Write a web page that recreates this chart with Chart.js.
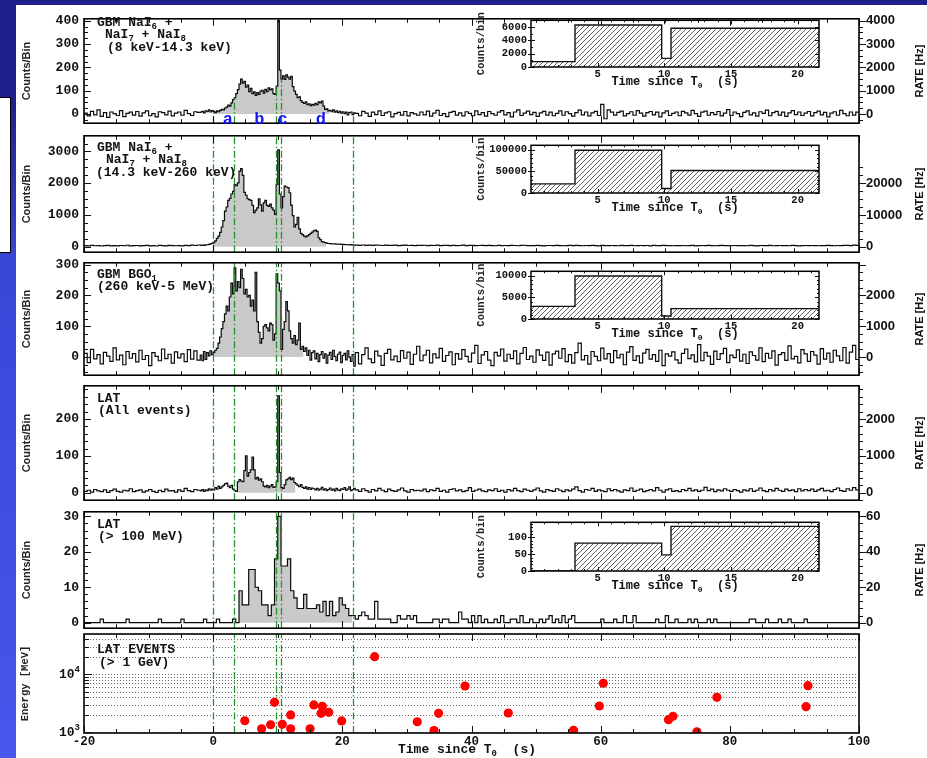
<!DOCTYPE html>
<html>
<head>
<meta charset="utf-8">
<title>GRB light curves</title>
<script src="https://cdn.jsdelivr.net/npm/chart.js@4.4.1/dist/chart.umd.min.js"></script>
<style>
  html, body { margin: 0; padding: 0; background: #fff; }
  #page { position: relative; width: 927px; height: 758px; overflow: hidden; background: #fff; }
  .band-top { position: absolute; left: 0; top: 0; width: 927px; height: 5px; background: #1f1f8c; }
  .band-left { position: absolute; left: 0; top: 0; width: 16px; height: 758px;
               background: linear-gradient(#1f1f8c 0px, #1f1f8c 100px, #3a46d6 260px, #4756ec 758px); }
  .band-box { position: absolute; left: -2px; top: 97px; width: 11px; height: 154px; background: #fff; border: 1.5px solid #000; }
  canvas { position: absolute; }
</style>
</head>
<body>
<div id="page">
  <div class="band-top"></div>
  <div class="band-left"></div>
  <div class="band-box"></div>
</div>
<script>
// ---------------- counts per bin ----------------
// Each GBM/LAT light curve is stored as three runs of bins:
// pre-burst (0.5 s bins from -20 s), burst (0.25 s bins from -2 s), post-burst (0.5 s bins from 22 s).

const NAI_LOW_PRE = [4,-8,12,-3,18,-10,6,-14,9,2,-6,15,-11,3,8,-4,11,-9,5,14,-7,2,-12,10,6,-3,13,-8,4,9,-5,16,2,-6,10,7];
const NAI_LOW_BURST = [
  8,12,5,14,10,18,9,15,
  12,6,14,10,16,20,18,26,
  30,38,34,48,62,70,88,105,
  128,150,132,140,115,124,96,110,
  88,95,80,92,84,98,102,90,
  106,96,112,104,108,88,84,120,
  400,188,150,164,148,168,158,150,
  162,118,98,84,70,74,58,50,
  46,52,40,44,36,42,38,46,
  40,52,48,56,34,20,22,14,
  16,10,18,8,14,6,12,4,
  10,2,8,-3,6,9,-2,5];
const NAI_LOW_POST = [
  3,-7,12,4,-10,8,-2,14,-6,5,10,-12,2,7,-4,11,-8,6,1,-5,
  9,-3,13,-9,4,16,-6,2,-11,7,12,-4,5,-8,10,3,-7,14,-2,6,
  -9,11,2,-5,8,15,-3,6,-12,9,18,-6,4,13,-2,7,-10,5,12,-4,
  8,-7,3,14,-5,10,2,-9,6,17,-3,9,-8,5,12,-6,42,-20,18,8,
  -4,7,13,-8,2,10,-5,15,4,-9,6,11,-3,8,-12,5,14,-6,3,9,
  -7,12,5,-4,16,2,-10,8,13,-5,6,-2,11,-8,4,19,-6,9,2,-11,
  7,14,-3,5,-9,10,3,17,-7,6,12,-4,8,-10,5,15,-2,9,-6,4,
  11,-8,6,13,-3,7,-12,4,10,-5,16,2,-7,9,-4,8];

const NAI_HIGH_PRE = [32,24,38,28,35,20,30,41,26,33,22,37,29,44,25,31,36,23,34,40,27,32,21,38,30,26,42,33,28,35,24,39,31,45,36,52];
const NAI_HIGH_BURST = [
  40,48,38,55,60,72,85,105,
  130,180,260,330,450,620,820,1120,
  1250,1460,1520,1660,1740,1960,1920,2010,
  2380,2460,2250,1710,1620,1510,1480,1460,
  1300,1070,1150,1220,1510,1320,1120,1380,
  1460,1300,1270,1340,1220,1150,1020,1960,
  3050,1660,1220,1580,1910,1880,1860,1700,
  1310,980,620,700,920,560,420,380,
  330,310,340,380,420,460,500,520,
  480,280,220,160,140,130,110,100,
  96,90,84,88,80,76,82,70,
  74,64,68,60,56,62,54,50];
const NAI_HIGH_POST = [
  48,42,52,40,46,38,50,44,36,47,41,39,45,35,43,49,37,42,34,40,
  38,44,33,41,36,46,32,39,43,35,40,31,37,45,34,38,42,30,36,41,
  33,39,35,28,42,34,37,31,40,36,29,38,44,32,35,30,39,34,27,37,
  36,31,40,33,28,35,38,30,42,34,29,37,32,39,35,27,41,33,30,36,
  34,28,38,31,35,40,29,33,37,30,36,26,39,32,34,38,30,35,28,33,
  31,37,29,34,40,27,33,36,30,38,32,28,35,39,31,34,29,36,33,30,
  35,29,38,32,27,36,31,34,40,28,33,37,30,35,29,38,32,26,34,36,
  30,37,33,28,35,31,39,34,29,36,32,38,40,34,45,38];

const BGO_PRE = [12,-18,25,-6,8,-22,15,3,-14,30,-9,6,-25,18,-4,11,-16,22,-8,5,-28,14,2,-12,26,-5,9,-20,17,-3,10,-15,24,-7,20,-10];
const BGO_BURST = [
  6,-12,18,-8,14,4,20,8,
  15,22,28,45,65,92,115,140,
  165,150,195,240,205,290,215,245,
  225,285,255,205,220,195,200,165,
  185,150,275,115,80,45,60,100,
  105,95,85,110,105,55,75,270,
  240,215,25,90,115,180,150,85,
  60,45,70,40,55,110,25,35,
  18,30,5,22,-10,14,20,-6,
  12,-15,8,18,-4,10,-20,6,
  15,-8,22,2,-12,9,16,-18,
  5,12,-9,20,0,-14,8,-30];
const BGO_POST = [
  14,-22,8,30,-6,-18,19,4,-27,12,25,-9,3,-15,21,-4,16,-24,9,35,
  -12,6,22,-19,10,-3,28,-14,5,17,-25,11,-7,24,2,-16,13,38,-21,7,
  18,-10,-28,15,4,26,-13,9,-5,20,-22,12,31,-8,3,-17,23,6,-11,16,
  -26,10,19,-4,27,-15,8,-20,14,45,-9,5,-23,18,2,-12,29,-6,11,-18,
  21,-3,9,-25,16,34,-11,4,-19,13,25,-7,8,-14,22,-28,10,3,17,-9,
  -20,12,26,-5,7,-16,40,-12,15,3,-24,19,-8,11,28,-18,6,-2,23,-13,
  9,-21,17,5,-10,30,-15,12,-4,20,-26,8,14,-11,36,-6,2,-19,24,10,
  -14,18,6,-23,27,-7,13,-17,22,4,-12,31,-20,16,38,-8];

const LAT_ALL_PRE = [4,7,2,9,5,3,8,1,6,10,4,2,7,5,11,3,6,8,2,5,9,4,1,7,3,10,5,6,2,8,4,12,6,3,9,7];
const LAT_ALL_BURST = [
  5,9,4,8,6,11,7,10,
  8,14,10,18,12,16,20,24,
  26,18,14,20,10,6,4,30,
  36,32,30,60,100,45,55,62,
  97,62,38,42,34,38,30,18,
  16,20,14,18,22,15,16,30,
  263,55,14,12,22,35,38,42,
  36,40,28,24,20,17,22,15,
  12,16,10,14,9,13,11,8,
  12,7,10,15,8,11,6,9,
  13,7,10,5,12,8,6,11,
  9,14,7,10,16,6,9,12];
const LAT_ALL_POST = [
  8,4,11,6,2,9,5,12,7,3,10,6,4,8,13,5,2,9,6,7,
  5,10,3,8,6,12,4,7,2,9,11,5,8,3,6,14,4,7,10,5,
  3,8,6,11,4,7,2,9,5,12,6,3,10,7,4,8,13,5,2,9,
  6,4,11,7,3,8,5,10,16,6,2,9,7,12,4,8,5,3,11,6,
  9,5,2,8,6,13,4,7,10,3,6,9,5,14,7,2,8,11,4,6,
  3,9,6,12,5,8,4,7,15,6,10,3,8,5,11,7,4,9,6,2,
  8,5,11,4,7,13,6,3,9,5,12,7,4,10,6,8,3,11,5,9,
  6,10,4,8,12,5,7,3,9,13,6,4,11,7,14,8];

// LAT > 100 MeV: 0.5 s bins from -20 s to 100 s (one row = 10 s)
const LAT_HE_COUNTS = [
  0,0,0,0,0,1,0,0,0,0,0,0,0,1,0,0,0,0,0,0,
  0,0,0,1,0,0,0,0,0,0,1,0,0,0,0,0,0,1,0,0,
  0,1,0,0,0,0,1,0,9,5,5,15,15,10,9,5,5,2,5,18,
  30,16,16,18,9,7,4,4,8,4,4,4,5,3,6,2,6,2,3,7,
  5,4,2,2,1,2,3,2,1,1,6,1,1,1,1,0,0,2,1,1,
  2,1,2,0,0,0,0,0,1,1,0,1,1,0,0,0,3,1,1,0,
  2,0,2,0,1,0,0,1,0,2,0,0,1,1,0,2,0,0,1,0,
  0,1,0,1,2,0,1,0,2,0,1,2,0,0,0,0,0,0,0,0,
  1,0,0,0,1,0,0,2,0,0,2,0,0,0,0,0,0,1,0,0,
  2,0,0,1,0,0,0,1,0,1,0,0,0,1,0,1,0,0,0,0,
  0,0,0,0,0,0,1,1,0,0,0,1,0,0,0,1,0,0,1,0,
  0,0,0,1,0,0,0,0,0,0,0,0,0,0,0,0,0,0,0,0];

// LAT events above 1 GeV: arrival time (s) and energy (MeV)
const EVT_TIME   = [4.9, 7.5, 8.9, 9.5, 10.7, 12.0, 12.0, 15.0, 15.6, 16.9, 16.7, 17.9, 19.9, 25.0, 31.6, 34.2, 34.9, 39.0, 45.7, 55.8, 59.8, 60.4, 70.5, 71.2, 74.9, 78.0, 91.8, 92.1];
const EVT_ENERGY = [1580, 1150, 1350, 3290, 1370, 1990, 1150, 1150, 2960, 2800, 2120, 2210, 1570, 20100, 1520, 1070, 2120, 6280, 2150, 1080, 2840, 7000, 1650, 1890, 1020, 4010, 2760, 6350];

// time intervals a-d and integrated counts per interval
const INTERVAL_EDGES  = [0, 3.3, 9.8, 10.5, 21.6];
const INTERVAL_NAMES  = ['a', 'b', 'c', 'd'];
const INT_NAI_LOW     = [800, 6300, 1300, 5800];
const INT_NAI_HIGH    = [21000, 98500, 10500, 52000];
const INT_BGO         = [2900, 9900, 700, 2400];
const INT_LAT_HE      = [0, 83, 48, 133];

const TIME_TICKS = [-20, 0, 20, 40, 60, 80, 100];
const ENERGY_GRID = [1000,2000,3000,4000,5000,6000,7000,8000,9000,10000,20000,30000,40000];

// ---------------- helpers ----------------
const MONO = '"Liberation Mono", "Courier New", monospace';
const SANS = '"Liberation Sans", Arial, sans-serif';
const GREEN = '#23912b';
const FILL_GREY = '#c9c9c9';
const PAD = 10;
const page = document.getElementById('page');

function addCanvas(left, top, w, h) {
  const c = document.createElement('canvas');
  c.width = w; c.height = h;
  c.style.left = left + 'px'; c.style.top = top + 'px';
  c.style.width = w + 'px'; c.style.height = h + 'px';
  page.appendChild(c);
  return c;
}

function binsToSteps(runs) {
  const pts = [];
  runs.forEach(([t0, w, vals]) => vals.forEach((v, i) => pts.push({ x: t0 + i * w, y: v })));
  const [t0, w, vals] = runs[runs.length - 1];
  pts.push({ x: t0 + vals.length * w, y: vals[vals.length - 1] });
  return pts;
}
function sliceSteps(pts, a, b) {
  const out = pts.filter(p => p.x >= a - 1e-9 && p.x < b - 1e-9);
  out.push({ x: b, y: out[out.length - 1].y });
  return out;
}
function valueAt(pts, t) {
  let v = pts[0].y;
  for (const p of pts) { if (p.x <= t + 1e-9) v = p.y; else break; }
  return v;
}
function parseRich(s) {
  const parts = [], re = /([_^])\{([^}]*)\}|([^_^]+)/g;
  let m;
  while ((m = re.exec(s))) {
    if (m[1]) parts.push({ t: m[2], sub: m[1] === '_', sup: m[1] === '^' });
    else parts.push({ t: m[3] });
  }
  return parts;
}
function drawRich(ctx, s, x, y, size, family, align) {
  const parts = parseRich(s);
  const fontOf = p => `bold ${(p.sub || p.sup) ? Math.round(size * 0.66) : size}px ${family}`;
  let total = 0;
  parts.forEach(p => { ctx.font = fontOf(p); total += ctx.measureText(p.t).width; });
  let cx = align === 'center' ? x - total / 2 : align === 'right' ? x - total : x;
  ctx.textAlign = 'left';
  ctx.textBaseline = 'middle';
  parts.forEach(p => {
    ctx.font = fontOf(p);
    const dy = p.sub ? size * 0.32 : p.sup ? -size * 0.36 : 0;
    ctx.fillText(p.t, cx, y + dy);
    cx += ctx.measureText(p.t).width;
  });
}
function fixedTicks(values) {
  return function (scale) { scale.ticks = values.map(v => ({ value: v })); };
}
function hatchPattern() {
  const c = document.createElement('canvas');
  c.width = 5; c.height = 5;
  const g = c.getContext('2d');
  g.strokeStyle = '#3a3a3a'; g.lineWidth = 0.8;
  g.beginPath();
  g.moveTo(0, 5); g.lineTo(5, 0);
  g.moveTo(-1, 1); g.lineTo(1, -1);
  g.moveTo(4, 6); g.lineTo(6, 4);
  g.stroke();
  return g.createPattern(c, 'repeat');
}
const HATCH = hatchPattern();

// frame + inward time ticks + y ticks for a main panel
function drawPanelFrame(chart, cfg) {
  const { ctx, chartArea: a, scales } = chart;
  ctx.save();
  ctx.strokeStyle = '#111';
  ctx.lineWidth = 1;
  ctx.beginPath();
  const xs = scales.x;
  for (let k = 0; k <= 24; k++) {
    const t = -20 + 5 * k;
    const px = Math.round(xs.getPixelForValue(t)) + 0.5;
    const L = (t % 20 === 0) ? 7 : 4;
    ctx.moveTo(px, a.bottom); ctx.lineTo(px, a.bottom - L);
    ctx.moveTo(px, a.top); ctx.lineTo(px, a.top + L);
  }
  if (cfg.yTicks) {
    const ys = scales.y, [maj, mn] = cfg.yTicks;
    for (let k = Math.ceil(ys.min / mn); k * mn <= ys.max; k++) {
      const v = k * mn, py = Math.round(ys.getPixelForValue(v)) + 0.5;
      const L = (Math.abs(v / maj - Math.round(v / maj)) < 1e-6) ? 7 : 4;
      ctx.moveTo(a.left, py); ctx.lineTo(a.left + L, py);
    }
  }
  if (cfg.y2Ticks) {
    const ys = scales.y2, [maj, mn, top] = cfg.y2Ticks;
    for (let k = Math.ceil(ys.min / mn); k * mn <= Math.min(ys.max, top); k++) {
      const v = k * mn, py = Math.round(ys.getPixelForValue(v)) + 0.5;
      const L = (Math.abs(v / maj - Math.round(v / maj)) < 1e-6) ? 7 : 4;
      ctx.moveTo(a.right, py); ctx.lineTo(a.right + L, py);
    }
  }
  ctx.stroke();
  ctx.lineWidth = 1.6;
  ctx.strokeStyle = '#000';
  ctx.strokeRect(a.left, a.top, a.right - a.left, a.bottom - a.top);
  ctx.restore();
}

function drawIntervalLines(chart, mode, pts) {
  const { ctx, chartArea: a, scales: { x, y } } = chart;
  ctx.save();
  ctx.beginPath(); ctx.rect(a.left, a.top, a.right - a.left, a.bottom - a.top); ctx.clip();
  ctx.strokeStyle = GREEN; ctx.lineWidth = 1.3;
  ctx.setLineDash([7, 2.5, 1.5, 2.5]);
  ctx.beginPath();
  INTERVAL_EDGES.forEach(t => {
    const px = Math.round(x.getPixelForValue(t)) + 0.5;
    const yTop = mode === 'curve' ? y.getPixelForValue(valueAt(pts, t)) : a.top;
    ctx.moveTo(px, a.bottom); ctx.lineTo(px, yTop);
  });
  ctx.stroke();
  ctx.restore();
}

function drawRateTitle(chart) {
  const { ctx, chartArea: a } = chart;
  ctx.save();
  ctx.translate(920, (a.top + a.bottom) / 2);
  ctx.rotate(-Math.PI / 2);
  ctx.fillStyle = '#111';
  ctx.font = `bold 11px ${SANS}`;
  ctx.textAlign = 'center'; ctx.textBaseline = 'middle';
  ctx.fillText('RATE [Hz]', 0, 0);
  ctx.restore();
}

// ---------------- main light-curve panels ----------------
const PANELS = [
  { runs: [[-20, 0.5, NAI_LOW_PRE], [-2, 0.25, NAI_LOW_BURST], [22, 0.5, NAI_LOW_POST]],
    fill: [0, 18], top: 14, bottom: 128, yMin: -39, yMax: 408,
    yLabels: [0, 100, 200, 300, 400], yTicks: [100, 25], rate: 10,
    y2Labels: [0, 1000, 2000, 3000, 4000], y2Ticks: [1000, 250, 4000],
    lines: 'curve', letters: true,
    texts: [['GBM NaI_{6} +', 97, 23], ['NaI_{7} + NaI_{8}', 105, 35], ['(8 keV-14.3 keV)', 107, 48]] },
  { runs: [[-20, 0.5, NAI_HIGH_PRE], [-2, 0.25, NAI_HIGH_BURST], [22, 0.5, NAI_HIGH_POST]],
    fill: [0, 17.5], top: 131, bottom: 257, yMin: -175, yMax: 3495,
    yLabels: [0, 1000, 2000, 3000], yTicks: [1000, 250], rate: 10,
    y2Labels: [0, 10000, 20000], y2Ticks: [10000, 2500, 26000],
    lines: 'full',
    texts: [['GBM NaI_{6} +', 97, 148], ['NaI_{7} + NaI_{8}', 106, 160], ['(14.3 keV-260 keV)', 96, 173]] },
  { runs: [[-20, 0.5, BGO_PRE], [-2, 0.25, BGO_BURST], [22, 0.5, BGO_POST]],
    fill: [0, 14], top: 258, bottom: 380, yMin: -59, yMax: 306,
    yLabels: [0, 100, 200, 300], yTicks: [100, 25], rate: 10,
    y2Labels: [0, 1000, 2000], y2Ticks: [1000, 250, 3000],
    lines: 'full',
    texts: [['GBM BGO_{1}', 97, 275], ['(260 keV-5 MeV)', 97, 287]] },
  { runs: [[-20, 0.5, LAT_ALL_PRE], [-2, 0.25, LAT_ALL_BURST], [22, 0.5, LAT_ALL_POST]],
    fill: [3.75, 12.75], top: 381, bottom: 505, yMin: -20, yMax: 290,
    yLabels: [0, 100, 200], yTicks: [100, 20], rate: 10,
    y2Labels: [0, 1000, 2000], y2Ticks: [1000, 200, 2900],
    lines: 'full',
    texts: [['LAT', 97, 399], ['(All events)', 98, 411]] },
  { runs: [[-20, 0.5, LAT_HE_COUNTS]],
    fill: [4, 21.5], top: 507, bottom: 633, yMin: -1.57, yMax: 31.3,
    yLabels: [0, 10, 20, 30], yTicks: [10, 2], rate: 2,
    y2Labels: [0, 20, 40, 60], y2Ticks: [20, 4, 62],
    lines: 'full',
    texts: [['LAT', 97, 525], ['(> 100 MeV)', 98, 537]] }
];

PANELS.forEach(cfg => {
  const canvasTop = cfg.top - PAD;
  const h = cfg.bottom - cfg.top + 2 * PAD;
  const cv = addCanvas(0, canvasTop, 927, h);
  const pts = binsToSteps(cfg.runs);
  const fillPts = sliceSteps(pts, cfg.fill[0], cfg.fill[1]);

  const deco = {
    id: 'panelDeco',
    afterDatasetsDraw(chart) {
      const { ctx } = chart;
      drawIntervalLines(chart, cfg.lines, pts);
      drawPanelFrame(chart, cfg);
      ctx.save();
      ctx.fillStyle = '#111';
      cfg.texts.forEach(([s, x, y]) => drawRich(ctx, s, x, y - canvasTop, 13, MONO, 'left'));
      if (cfg.letters) {
        ctx.fillStyle = '#1616f0';
        ctx.font = `bold 17px ${MONO}`;
        ctx.textAlign = 'center'; ctx.textBaseline = 'middle';
        const xs = chart.scales.x;
        INTERVAL_NAMES.forEach((n, i) => {
          const mid = (INTERVAL_EDGES[i] + INTERVAL_EDGES[i + 1]) / 2;
          ctx.fillText(n, xs.getPixelForValue(mid) + 4, 120 - canvasTop);
        });
      }
      ctx.restore();
      drawRateTitle(chart);
    }
  };

  new Chart(cv, {
    type: 'line',
    data: {
      datasets: [
        { data: pts, stepped: true, borderColor: '#0a0a0a', borderWidth: 1.2, pointRadius: 0, fill: false, order: 1 },
        { data: fillPts, stepped: true, borderWidth: 0, borderColor: 'rgba(0,0,0,0)', backgroundColor: FILL_GREY, pointRadius: 0, fill: 'origin', order: 2 }
      ]
    },
    options: {
      responsive: false, animation: false, events: [], devicePixelRatio: 1,
      layout: { padding: { top: PAD, bottom: PAD, left: 0, right: 0 } },
      plugins: { legend: { display: false }, tooltip: { enabled: false } },
      scales: {
        x: { type: 'linear', min: -20, max: 100, display: false },
        y: {
          type: 'linear', position: 'left', min: cfg.yMin, max: cfg.yMax,
          afterBuildTicks: fixedTicks(cfg.yLabels),
          afterFit(s) { s.width = 84; },
          grid: { display: false, drawTicks: false }, border: { display: false },
          ticks: { autoSkip: false, padding: 5, color: '#111', font: { family: MONO, size: 13, weight: 'bold' }, callback: v => String(v) },
          title: { display: true, text: 'Counts/Bin', color: '#222', font: { family: SANS, size: 11, weight: 'bold' }, padding: { top: 20, bottom: 0 } }
        },
        y2: {
          type: 'linear', position: 'right', min: cfg.yMin * cfg.rate, max: cfg.yMax * cfg.rate,
          afterBuildTicks: fixedTicks(cfg.y2Labels),
          afterFit(s) { s.width = 68; },
          grid: { display: false, drawTicks: false }, border: { display: false },
          ticks: { autoSkip: false, padding: 7, color: '#111', font: { family: SANS, size: 13, weight: 'bold' }, callback: v => String(v) }
        }
      }
    },
    plugins: [deco]
  });
});

// ---------------- LAT events above 1 GeV ----------------
(function () {
  const top = 634, canvasTop = top - PAD;
  const cv = addCanvas(0, canvasTop, 927, 758 - canvasTop);
  const deco = {
    id: 'eventDeco',
    beforeDatasetsDraw(chart) {
      const { ctx, chartArea: a, scales: { y } } = chart;
      ctx.save();
      ctx.strokeStyle = '#6a6a6a'; ctx.lineWidth = 1; ctx.setLineDash([1, 2]);
      ctx.beginPath();
      ENERGY_GRID.forEach(e => {
        const py = Math.round(y.getPixelForValue(e)) + 0.5;
        ctx.moveTo(a.left, py); ctx.lineTo(a.right, py);
      });
      ctx.stroke();
      ctx.restore();
      drawIntervalLines(chart, 'full', null);
    },
    afterDatasetsDraw(chart) {
      const { ctx, chartArea: a, scales: { y } } = chart;
      drawPanelFrame(chart, {});
      ctx.save();
      ctx.strokeStyle = '#111'; ctx.lineWidth = 1;
      ctx.beginPath();
      ENERGY_GRID.forEach(e => {
        const py = Math.round(y.getPixelForValue(e)) + 0.5;
        const L = (e === 1000 || e === 10000) ? 8 : 5;
        ctx.moveTo(a.left, py); ctx.lineTo(a.left + L, py);
      });
      ctx.stroke();
      ctx.fillStyle = '#111';
      [[1000, '10^{3}'], [10000, '10^{4}']].forEach(([e, s]) => drawRich(ctx, s, 80, y.getPixelForValue(e), 13, MONO, 'right'));
      drawRich(ctx, 'LAT EVENTS', 97, 650 - canvasTop, 13, MONO, 'left');
      drawRich(ctx, '(> 1 GeV)', 99, 663 - canvasTop, 13, MONO, 'left');
      drawRich(ctx, 'Time since T_{0}  (s)', 398, 750 - canvasTop, 13, MONO, 'left');
      ctx.restore();
    }
  };
  new Chart(cv, {
    type: 'scatter',
    data: {
      datasets: [{
        data: EVT_TIME.map((t, i) => ({ x: t, y: EVT_ENERGY[i] })),
        pointRadius: 4.6, pointBackgroundColor: '#ff0000', backgroundColor: '#ff0000', pointBorderWidth: 0, borderWidth: 0
      }]
    },
    options: {
      responsive: false, animation: false, events: [], devicePixelRatio: 1,
      layout: { padding: { top: PAD, bottom: 0, left: 0, right: 68 } },
      plugins: { legend: { display: false }, tooltip: { enabled: false } },
      scales: {
        x: {
          type: 'linear', min: -20, max: 100,
          afterBuildTicks: fixedTicks(TIME_TICKS),
          afterFit(s) { s.height = 25; },
          grid: { display: false, drawTicks: false }, border: { display: false },
          ticks: { autoSkip: false, maxRotation: 0, padding: 1, color: '#111', font: { family: MONO, size: 12.5, weight: 'bold' }, callback: v => String(v) }
        },
        y: {
          type: 'logarithmic', position: 'left', min: 972, max: 49500,
          afterBuildTicks: fixedTicks([1000, 10000]),
          afterFit(s) { s.width = 84; },
          grid: { display: false, drawTicks: false }, border: { display: false },
          ticks: { display: false },
          title: { display: true, text: 'Energy [MeV]', color: '#222', font: { family: MONO, size: 10.5, weight: 'bold' }, padding: { top: 19, bottom: 0 } }
        }
      }
    },
    plugins: [deco]
  });
})();

// ---------------- interval insets ----------------
const INSETS = [
  { values: INT_NAI_LOW,  left: 531, right: 819, top: 16,  bottom: 67,  yMax: 7000,   labels: [0, 2000, 4000, 6000], minor: 1000 },
  { values: INT_NAI_HIGH, left: 531, right: 819, top: 141, bottom: 193, yMax: 110000, labels: [0, 50000, 100000],    minor: 10000 },
  { values: INT_BGO,      left: 531, right: 819, top: 267, bottom: 319, yMax: 11000,  labels: [0, 5000, 10000],      minor: 1000 },
  { values: INT_LAT_HE,   left: 531, right: 819, top: 518, bottom: 571, yMax: 145,    labels: [0, 50, 100],          minor: 10 }
];

INSETS.forEach(cfg => {
  const LW = 61, RP = 12, TP = 6, XH = 28;
  const cv = addCanvas(cfg.left - LW, cfg.top - TP, (cfg.right - cfg.left) + LW + RP, (cfg.bottom - cfg.top) + TP + XH);
  const pts = INTERVAL_EDGES.map((t, i) => ({ x: t, y: cfg.values[Math.min(i, cfg.values.length - 1)] }));
  const deco = {
    id: 'insetDeco',
    afterDatasetsDraw(chart) {
      const { ctx, chartArea: a, scales: { x, y } } = chart;
      ctx.save();
      ctx.strokeStyle = '#111'; ctx.lineWidth = 1;
      ctx.beginPath();
      for (let t = 1; t <= 21; t++) {
        const px = Math.round(x.getPixelForValue(t)) + 0.5, L = t % 5 === 0 ? 4 : 2;
        ctx.moveTo(px, a.bottom); ctx.lineTo(px, a.bottom - L);
        ctx.moveTo(px, a.top); ctx.lineTo(px, a.top + L);
      }
      for (let k = 0; k * cfg.minor < y.max; k++) {
        const v = k * cfg.minor, py = Math.round(y.getPixelForValue(v)) + 0.5;
        const major = cfg.labels.includes(v), L = major ? 4 : 2;
        ctx.moveTo(a.left - (major ? 3 : 0), py); ctx.lineTo(a.left + L, py);
        ctx.moveTo(a.right, py); ctx.lineTo(a.right - L, py);
      }
      ctx.stroke();
      ctx.lineWidth = 1.5; ctx.strokeStyle = '#000';
      ctx.strokeRect(a.left, a.top, a.right - a.left, a.bottom - a.top);
      ctx.fillStyle = '#111';
      drawRich(ctx, 'Time since T_{0}  (s)', (a.left + a.right) / 2, a.bottom + 15, 12, MONO, 'center');
      ctx.restore();
    }
  };
  new Chart(cv, {
    type: 'line',
    data: {
      datasets: [{ data: pts, stepped: true, borderColor: '#111', borderWidth: 1.4, pointRadius: 0, fill: 'origin', backgroundColor: HATCH }]
    },
    options: {
      responsive: false, animation: false, events: [], devicePixelRatio: 1,
      layout: { padding: { top: TP, bottom: 0, left: 0, right: RP } },
      plugins: { legend: { display: false }, tooltip: { enabled: false } },
      scales: {
        x: {
          type: 'linear', min: 0, max: 21.6,
          afterBuildTicks: fixedTicks([5, 10, 15, 20]),
          afterFit(s) { s.height = XH; },
          grid: { display: false, drawTicks: false }, border: { display: false },
          ticks: { autoSkip: false, maxRotation: 0, padding: 1, color: '#111', font: { family: MONO, size: 10.5, weight: 'bold' }, callback: v => String(v) }
        },
        y: {
          type: 'linear', min: 0, max: cfg.yMax,
          afterBuildTicks: fixedTicks(cfg.labels),
          afterFit(s) { s.width = LW; },
          grid: { display: false, drawTicks: false }, border: { display: false },
          ticks: { autoSkip: false, padding: 4, color: '#111', font: { family: MONO, size: 10.5, weight: 'bold' }, callback: v => String(v) },
          title: { display: true, text: 'Counts/bin', color: '#222', font: { family: MONO, size: 10.5, weight: 'bold' }, padding: { top: 5, bottom: 0 } }
        }
      }
    },
    plugins: [deco]
  });
});
</script>
</body>
</html>
